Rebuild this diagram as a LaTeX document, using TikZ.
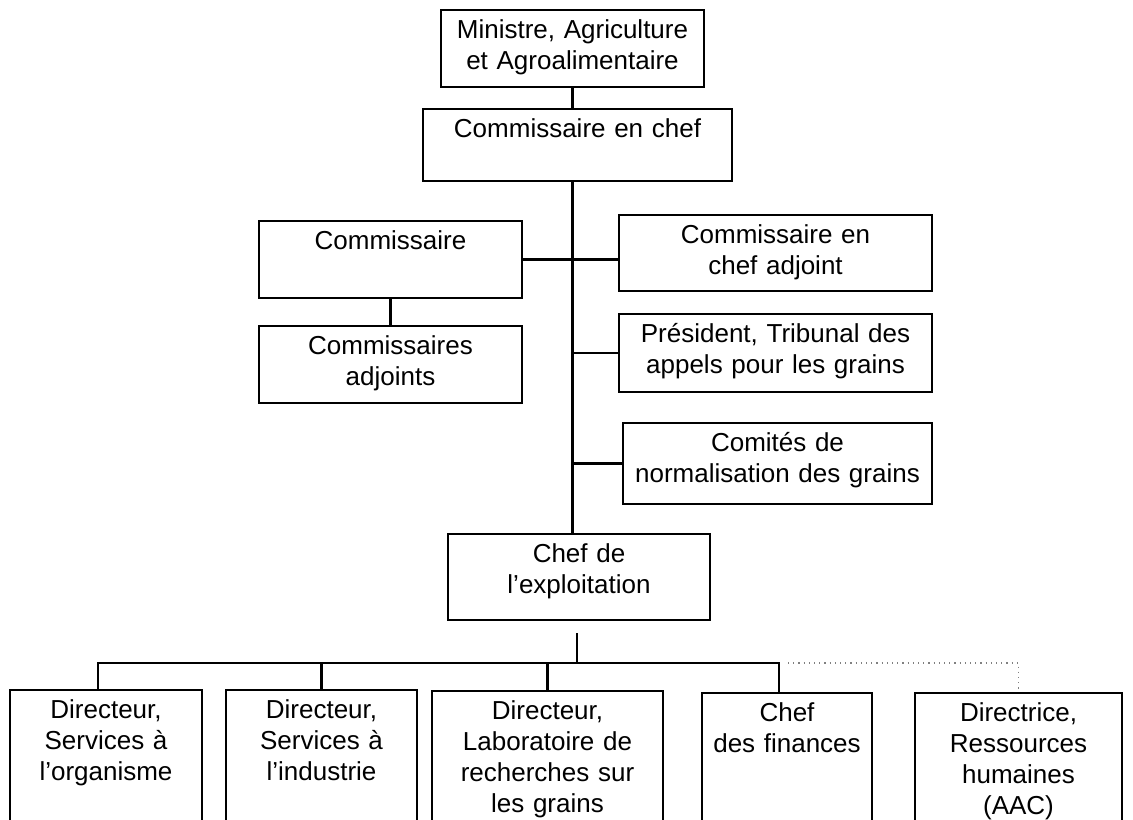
\documentclass[tikz,border=0pt]{standalone}
\usepackage{fontspec}
\setmainfont{Liberation Sans}
\usepackage{tikz}
\frenchspacing

\newcommand{\orgfont}{\fontsize{13}{15.5}\selectfont}
\tikzset{
  orgbox/.style={draw, line width=1.1pt, anchor=north, align=center,
    inner xsep=2pt, inner ysep=0pt, text height=14pt, font=\orgfont},
  link/.style={line width=1.2pt},
  dotlink/.style={gray, line width=0.6pt, dotted}
}

\begin{document}
\begin{tikzpicture}[x=0.5pt, y=-0.5pt]
    \clip (0,0) rectangle (1133,819);

    % Ministre and Commissaire en chef
    \node[orgbox, text width=127.5pt, text depth=24.5pt] (mini) at (572.5,9) {Ministre, Agriculture\\et Agroalimentaire};
    \node[orgbox, text width=150.5pt, text depth=22pt] (cec) at (577.5,108) {Commissaire en chef};

    % Left branch
    \node[orgbox, text width=127.5pt, text depth=24.5pt] (comm) at (390.5,220) {Commissaire};
    \node[orgbox, text width=127.5pt, text depth=24.5pt] (cadj) at (390.5,325) {Commissaires\\adjoints};

    % Right branch
    \node[orgbox, text width=152.5pt, text depth=24pt] (cea) at (775.5,214) {Commissaire en\\chef adjoint};
    \node[orgbox, text width=152.5pt, text depth=25pt] (pres) at (775.5,313) {Président, Tribunal des\\appels pour les grains};
    \node[orgbox, text width=150.5pt, text depth=26.5pt] (comites) at (777.5,422) {Comités de\\normalisation des grains};

    % Chef de l'exploitation
    \node[orgbox, text width=127pt, text depth=29pt] (chefexp) at (579,533) {Chef de\\l’exploitation};

    % Directors (boxes run off the bottom)
    \node[orgbox, text width=92pt, text depth=66pt] (d1) at (106,689) {Directeur,\\Services à\\l’organisme};
    \node[orgbox, text width=91.5pt, text depth=66pt] (d2) at (321.5,689) {Directeur,\\Services à\\l’industrie};
    \node[orgbox, text width=111.5pt, text depth=66pt] (d3) at (547.5,690) {Directeur,\\Laboratoire de\\recherches sur\\les grains};
    \node[orgbox, text width=81pt, text depth=66pt] (d4) at (787,692) {Chef\\des finances};
    \node[orgbox, text width=99.5pt, text depth=66pt] (d5) at (1018.5,692) {Directrice,\\Ressources\\humaines\\(AAC)};

    % Trunk
    \draw[link] (mini.south) -- (mini.south |- cec.north);
    \draw[link] (mini.south |- cec.south) -- (mini.south |- chefexp.north);
    \draw[link] (comm.east) -- (comm.east -| cea.west);
    \draw[link] (comm.south) -- (cadj.north);
    \draw[link] (pres.west) -- (pres.west -| mini.south);
    \draw[link] (comites.west) -- (comites.west -| mini.south);

    % Bus to directors
    \coordinate (drop) at (577,633);
    \coordinate (bus) at (577,663);
    \coordinate (busL) at (98,663);
    \coordinate (busR) at (779,663);
    \coordinate (dotstart) at (788,663);
    \draw[link] (drop) -- (bus);
    \draw[link] (busL |- d1.north) -- (busL) -- (busR) -- (busR |- d4.north);
    \draw[link] (d2.north) -- (d2.north |- bus);
    \draw[link] (d3.north) -- (d3.north |- bus);
    \draw[dotlink] (dotstart) -| (d5.north);
\end{tikzpicture}
\end{document}
